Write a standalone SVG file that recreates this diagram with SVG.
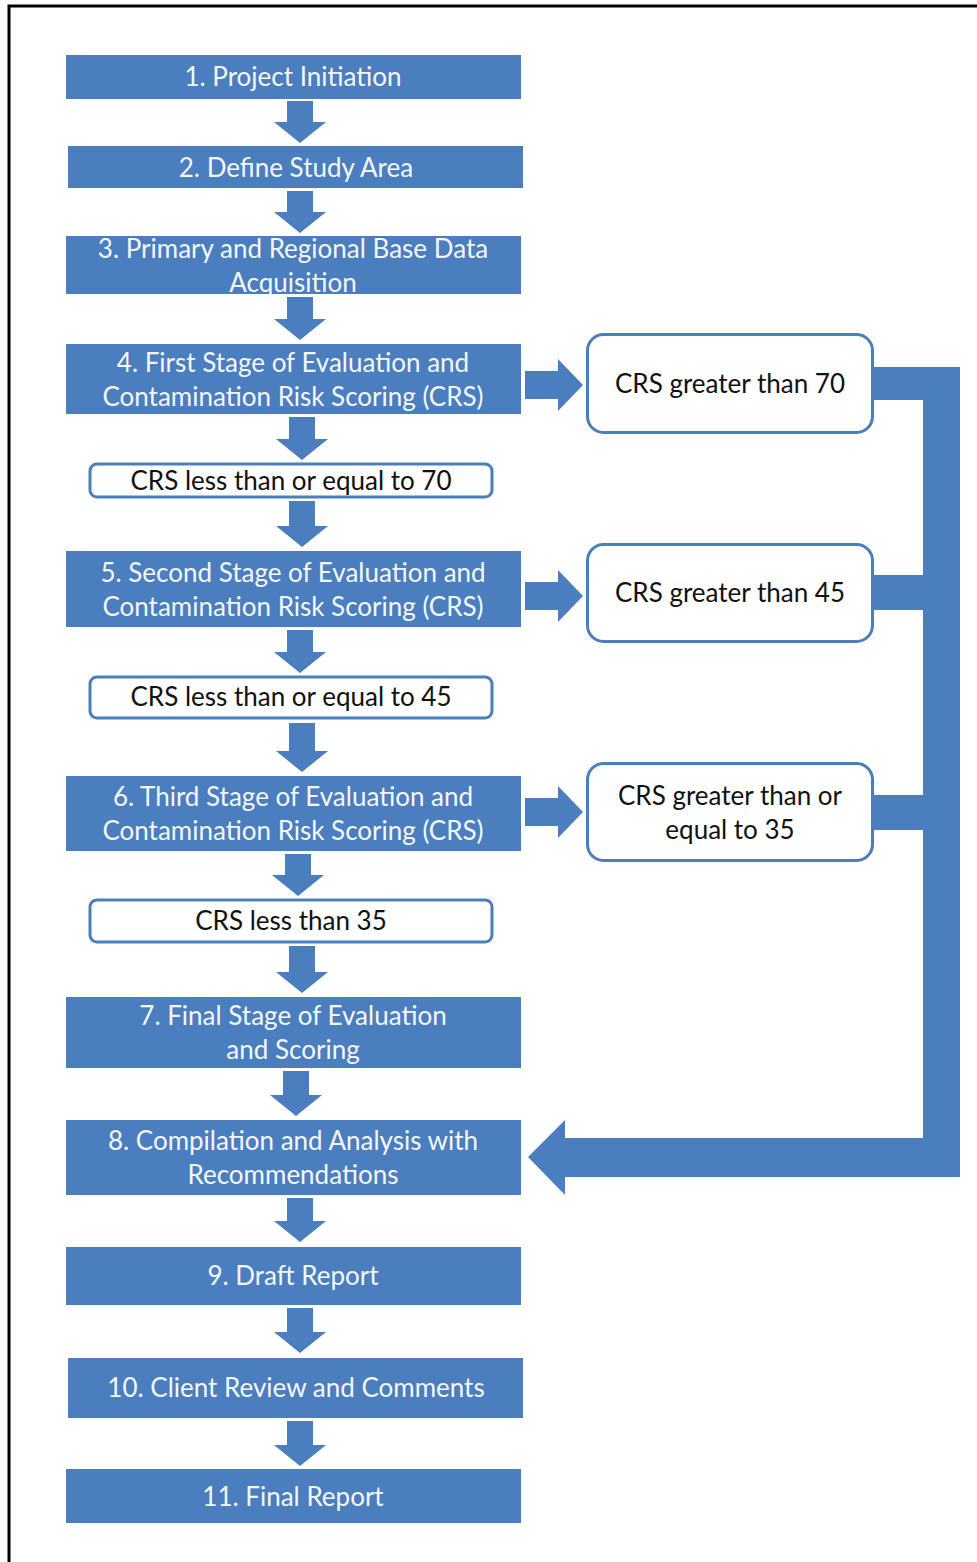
<svg xmlns="http://www.w3.org/2000/svg" width="977" height="1562" viewBox="0 0 977 1562">
<defs>
<style>
.step{fill:#4a7ebe}
.st{font-family:Lato,"Liberation Sans",sans-serif;font-size:26px;fill:#f4f6fb;text-anchor:middle}
.dec{fill:#ffffff;stroke:#4a7ebe;stroke-width:3}
.dt{font-family:Lato,"Liberation Sans",sans-serif;font-size:26px;fill:#111111;text-anchor:middle}
.arr{fill:#4a7ebe}
</style>
</defs>
<rect width="977" height="1562" fill="#ffffff"/>
<path d="M9,1562 V6 H977" fill="none" stroke="#000" stroke-width="3"/>

<g id="n1"><rect class="step" x="66" y="55" width="455" height="44"/><text class="st" x="293" y="86">1. Project Initiation</text></g>
<g id="n2"><rect class="step" x="68" y="146" width="455" height="42"/><text class="st" x="296" y="177">2. Define Study Area</text></g>
<g id="n3"><rect class="step" x="66" y="236" width="455" height="58"/><text class="st" x="293" y="258">3. Primary and Regional Base Data</text><text class="st" x="293" y="292">Acquisition</text></g>
<g id="n4"><rect class="step" x="66" y="344" width="455" height="70"/><text class="st" x="293" y="372">4. First Stage of Evaluation and</text><text class="st" x="293" y="406">Contamination Risk Scoring (CRS)</text></g>
<g id="d70"><rect class="dec" x="90" y="464" width="402" height="33" rx="7"/><text class="dt" x="291" y="490">CRS less than or equal to 70</text></g>
<g id="n5"><rect class="step" x="66" y="551" width="455" height="76"/><text class="st" x="293" y="582">5. Second Stage of Evaluation and</text><text class="st" x="293" y="616">Contamination Risk Scoring (CRS)</text></g>
<g id="d45"><rect class="dec" x="90" y="677" width="402" height="41" rx="7"/><text class="dt" x="291" y="706">CRS less than or equal to 45</text></g>
<g id="n6"><rect class="step" x="66" y="776" width="455" height="75"/><text class="st" x="293" y="806">6. Third Stage of Evaluation and</text><text class="st" x="293" y="840">Contamination Risk Scoring (CRS)</text></g>
<g id="d35"><rect class="dec" x="90" y="900" width="402" height="42" rx="7"/><text class="dt" x="291" y="930">CRS less than 35</text></g>
<g id="n7"><rect class="step" x="66" y="997" width="455" height="71"/><text class="st" x="293" y="1025">7. Final Stage of Evaluation</text><text class="st" x="293" y="1059">and Scoring</text></g>
<g id="n8"><rect class="step" x="66" y="1120" width="455" height="75"/><text class="st" x="293" y="1150">8. Compilation and Analysis with</text><text class="st" x="293" y="1184">Recommendations</text></g>
<g id="n9"><rect class="step" x="66" y="1247" width="455" height="58"/><text class="st" x="293" y="1285">9. Draft Report</text></g>
<g id="n10"><rect class="step" x="68" y="1358" width="455" height="60"/><text class="st" x="296" y="1397">10. Client Review and Comments</text></g>
<g id="n11"><rect class="step" x="66" y="1469" width="455" height="54"/><text class="st" x="293" y="1506">11. Final Report</text></g>

<g id="g70"><rect class="dec" x="587.5" y="334.5" width="285" height="98" rx="16"/><text class="dt" x="730" y="393">CRS greater than 70</text></g>
<g id="g45"><rect class="dec" x="587.5" y="544.5" width="285" height="97" rx="16"/><text class="dt" x="730" y="602">CRS greater than 45</text></g>
<g id="g35"><rect class="dec" x="587.5" y="763.5" width="285" height="97" rx="16"/><text class="dt" x="730" y="805">CRS greater than or</text><text class="dt" x="730" y="839">equal to 35</text></g>

<g id="connectors" class="arr">
<path d="M287,101 H313 V122 H326 L300,143 L274,122 H287 Z"/>
<path d="M287,191 H313 V212 H326 L300,233 L274,212 H287 Z"/>
<path d="M287,297 H313 V319 H326 L300,340 L274,319 H287 Z"/>
<path d="M289,417 H315 V439 H328 L302,460 L276,439 H289 Z"/>
<path d="M289,501 H315 V526 H328 L302,547 L276,526 H289 Z"/>
<path d="M287,630 H313 V652 H326 L300,673 L274,652 H287 Z"/>
<path d="M289,723 H315 V751 H328 L302,772 L276,751 H289 Z"/>
<path d="M285,854 H311 V875 H324 L298,896 L272,875 H285 Z"/>
<path d="M289,946 H315 V972 H328 L302,993 L276,972 H289 Z"/>
<path d="M283,1071 H309 V1095 H322 L296,1116 L270,1095 H283 Z"/>
<path d="M287,1198 H313 V1221 H326 L300,1242 L274,1221 H287 Z"/>
<path d="M287,1308 H313 V1332 H326 L300,1353 L274,1332 H287 Z"/>
<path d="M287,1421 H313 V1445 H326 L300,1466 L274,1445 H287 Z"/>
<path d="M525,371 H558 V359 L583,385 L558,411 V399 H525 Z"/>
<path d="M525,582 H558 V570 L583,596 L558,622 V610 H525 Z"/>
<path d="M525,798 H558 V786 L583,812 L558,838 V826 H525 Z"/>
<path d="M873,367 H960 V1177 H565 V1195 L528,1157 L565,1120 V1138 H923 V830 H873 V795 H923 V610 H873 V575 H923 V400 H873 Z"/>
</g>
</svg>
